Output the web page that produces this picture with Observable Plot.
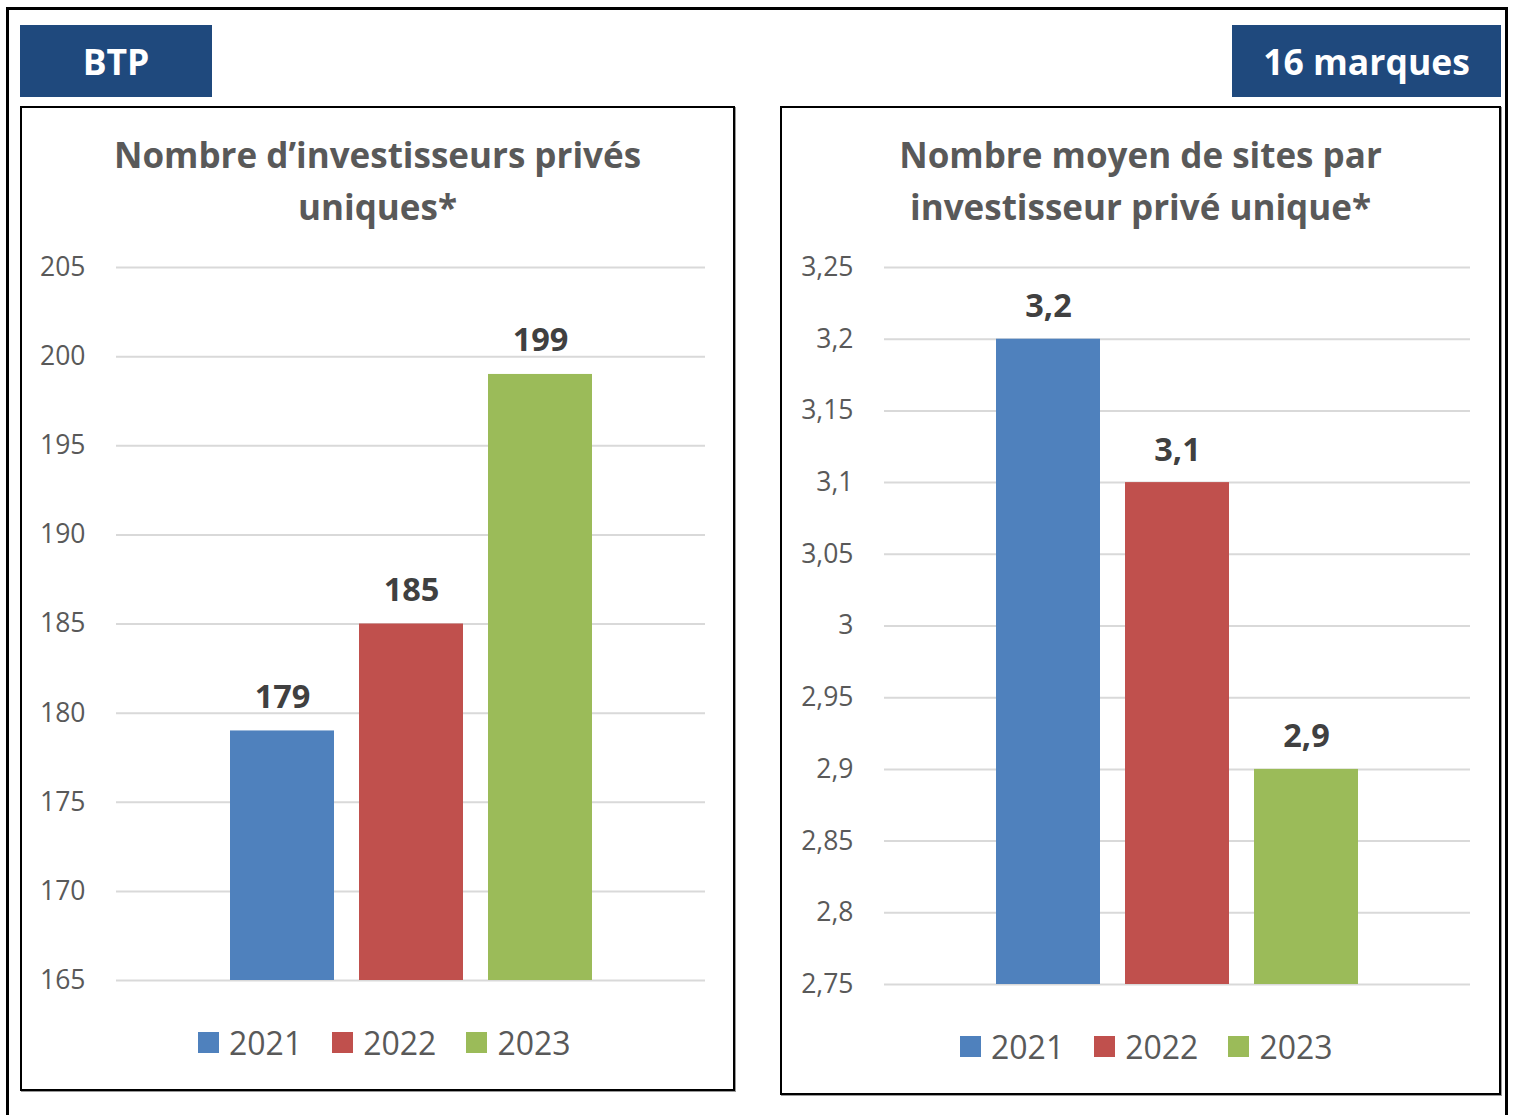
<!DOCTYPE html>
<html>
<head>
<meta charset="utf-8">
<script src="https://cdn.jsdelivr.net/npm/d3@7"></script>
<script src="https://cdn.jsdelivr.net/npm/@observablehq/plot@0.6"></script>
<style>
  html, body { margin: 0; padding: 0; background: #fff; }
  body { width: 1518px; height: 1115px; position: relative; overflow: hidden; font-family: "Open Sans", sans-serif; }
  .outer { position: absolute; left: 6px; top: 7px; width: 1502px; height: 1200px; border: 3px solid #000; box-sizing: border-box; }
  .hdr { position: absolute; background: #1F497D; color: #fff; font-weight: 700; font-size: 35.5px; display: flex; align-items: center; justify-content: center; }
  .panel { position: absolute; border: 2px solid #000; box-shadow: 1px 1px 0 #999; box-sizing: border-box; }
  .title { position: absolute; text-align: center; color: #595959; font-weight: 700; font-size: 35px; line-height: 52px; }
  .chart { position: absolute; }
  .legend { position: absolute; display: flex; align-items: center; color: #595959; font-size: 32px; }
  .legend .item { display: flex; align-items: center; margin-right: 30px; }
  .legend .sw { width: 21px; height: 21px; margin-right: 10px; }
</style>
</head>
<body>
<div class="outer"></div>
<div class="hdr" style="left:20px;top:25px;width:192px;height:72px;">BTP</div>
<div class="hdr" style="left:1232px;top:25px;width:269px;height:72px;">16 marques</div>
<div class="panel" style="left:20px;top:106px;width:715px;height:985px;"></div>
<div class="panel" style="left:780px;top:106px;width:721px;height:989px;"></div>
<div class="title" id="t1" style="left:20px;top:129px;width:715px;"></div>
<div class="title" id="t2" style="left:780px;top:129px;width:721px;"></div>
<div class="chart" id="c1" style="left:0px;top:250px;"></div>
<div class="chart" id="c2" style="left:760px;top:250px;"></div>
<div class="legend" id="l1" style="left:198px;top:1021px;"></div>
<div class="legend" id="l2" style="left:960px;top:1025px;"></div>
<script>
// ---- data ----
const years = ["2021", "2022", "2023"];
const seriesColors = ["#4F81BD", "#C0504D", "#9BBB59"];
const investors = [179, 185, 199];
const sitesPerInvestor = [3.2, 3.1, 2.9];
const leftTicks = [165, 170, 175, 180, 185, 190, 195, 200, 205];
const rightTicks = [2.75, 2.8, 2.85, 2.9, 2.95, 3, 3.05, 3.1, 3.15, 3.2, 3.25];
const leftTitle = ["Nombre d\u2019investisseurs privés", "uniques*"];
const rightTitle = ["Nombre moyen de sites par", "investisseur privé unique*"];

const fr = v => String(+v.toFixed(2)).replace(".", ",");

function makeChart({values, ticks, width, height, marginLeft, marginRight, marginTop, marginBottom, padIn, padOut, labelFmt, dy}) {
  const base = ticks[0];
  const data = years.map((y, i) => ({year: y, value: values[i], color: seriesColors[i], base}));
  return Plot.plot({
    width, height, marginLeft, marginRight, marginTop, marginBottom,
    style: {fontFamily: "Open Sans, sans-serif", fontSize: "26.5px", color: "#595959", background: "transparent", overflow: "visible"},
    x: {domain: years, axis: null, paddingInner: padIn, paddingOuter: padOut},
    y: {domain: [ticks[0], ticks[ticks.length - 1]], ticks, tickFormat: fr, tickSize: 0, tickPadding: 31, label: null},
    marks: [
      Plot.ruleY(ticks, {stroke: "#D9D9D9", strokeWidth: 2}),
      Plot.barY(data, {x: "year", y1: "base", y2: "value", fill: "color"}),
      Plot.text(data, {x: "year", y: "value", text: d => labelFmt(d.value), dy, lineAnchor: "bottom",
        fontSize: 32.5, fontWeight: "bold", fill: "#404040"})
    ]
  });
}

document.getElementById("c1").appendChild(makeChart({
  values: investors, ticks: leftTicks, width: 735, height: 760,
  marginLeft: 116, marginRight: 30, marginTop: 17, marginBottom: 30,
  padIn: 0.197, padOut: 0.88, labelFmt: v => String(v), dy: -23
}));
document.getElementById("c2").appendChild(makeChart({
  values: sitesPerInvestor, ticks: rightTicks, width: 740, height: 760,
  marginLeft: 124, marginRight: 30, marginTop: 17, marginBottom: 26,
  padIn: 0.194, padOut: 0.868, labelFmt: fr, dy: -22
}));

function fillTitle(id, lines) {
  const el = document.getElementById(id);
  lines.forEach(l => { const d = document.createElement("div"); d.textContent = l; el.appendChild(d); });
}
fillTitle("t1", leftTitle);
fillTitle("t2", rightTitle);

function fillLegend(id) {
  const el = document.getElementById(id);
  years.forEach((y, i) => {
    const it = document.createElement("div"); it.className = "item";
    const sw = document.createElement("div"); sw.className = "sw"; sw.style.background = seriesColors[i];
    const tx = document.createElement("span"); tx.textContent = y;
    it.appendChild(sw); it.appendChild(tx); el.appendChild(it);
  });
}
fillLegend("l1");
fillLegend("l2");
</script>
</body>
</html>
